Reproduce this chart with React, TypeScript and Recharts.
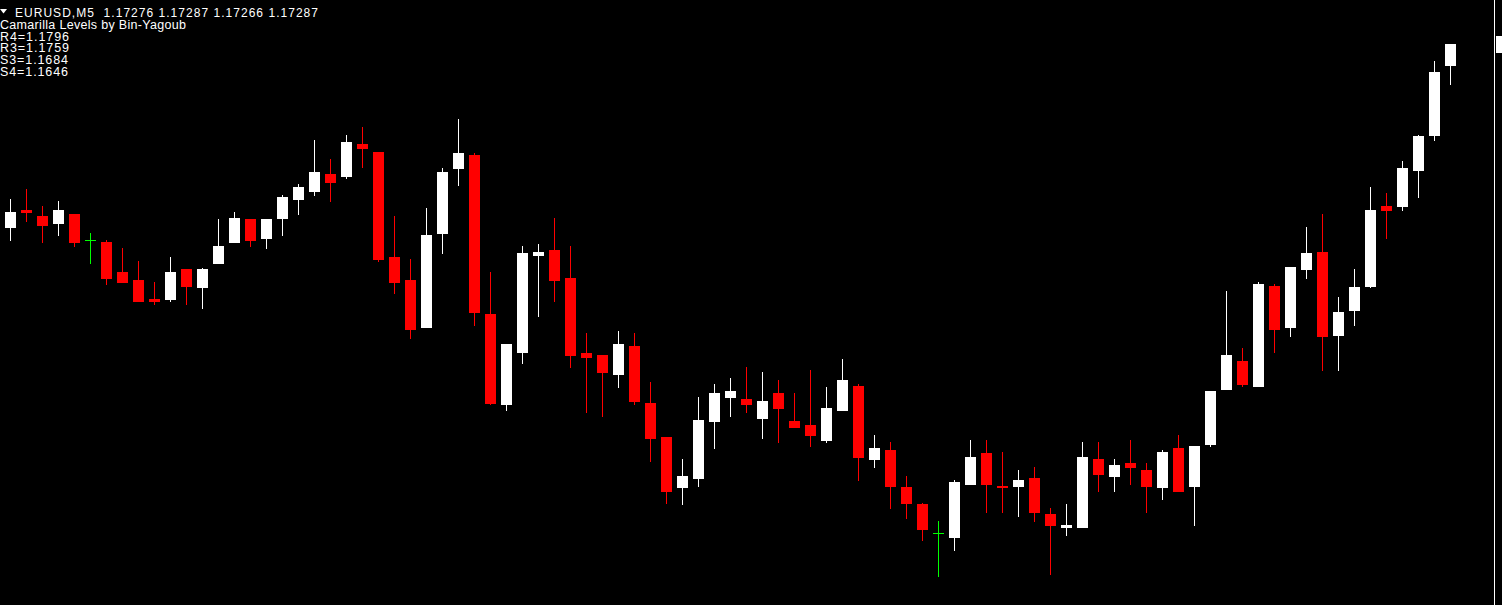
import React from 'react';
import { ComposedChart, Bar, XAxis, YAxis, ReferenceLine } from 'recharts';

const symbolLine = 'EURUSD,M5  1.17276 1.17287 1.17266 1.17287';
const indicatorName = 'Camarilla Levels by Bin-Yagoub';
const levelNames = ['R4', 'R3', 'S3', 'S4'];
const levelValues = ['1.1796', '1.1759', '1.1684', '1.1646'];

const opens = [
  1.17195, 1.17204, 1.17201, 1.17197, 1.17202, 1.17189, 1.17188, 1.17173, 1.17169, 1.171595,
  1.17159, 1.171745, 1.17165, 1.17177, 1.171875, 1.171995, 1.171895, 1.171995, 1.17209, 1.17213,
  1.17222, 1.172205, 1.17237, 1.17233, 1.171805, 1.17169, 1.17145, 1.17192, 1.172245, 1.172315,
  1.17152, 1.171065, 1.171325, 1.17181, 1.17184, 1.1717, 1.171325, 1.171315, 1.171215, 1.17136,
  1.171075, 1.170905, 1.17065, 1.170695, 1.17098, 1.1711, 1.171095, 1.170995, 1.171125, 1.170985,
  1.170965, 1.170885, 1.171035, 1.17116, 1.17079, 1.17084, 1.170655, 1.17057, 1.170425, 1.1704,
  1.170665, 1.170825, 1.17066, 1.170655, 1.1707, 1.17052, 1.17045, 1.17045, 1.170795, 1.170705,
  1.170775, 1.17074, 1.17065, 1.17085, 1.170655, 1.170865, 1.17114, 1.171285, 1.171155, 1.17166,
  1.17145, 1.17174, 1.17183, 1.17141, 1.171535, 1.171655, 1.17206, 1.172055, 1.172235, 1.17241,
  1.17276,
];
const highs = [
  1.172095, 1.172145, 1.17206, 1.172085, 1.17202, 1.171925, 1.17189, 1.17185, 1.171785, 1.17168,
  1.171805, 1.171745, 1.17175, 1.171995, 1.17203, 1.171995, 1.171995, 1.172115, 1.17217, 1.17239,
  1.172295, 1.172415, 1.172455, 1.17233, 1.17201, 1.171795, 1.17205, 1.17225, 1.172495, 1.172325,
  1.17173, 1.17137, 1.17186, 1.17187, 1.172, 1.17186, 1.171425, 1.171315, 1.171435, 1.171425,
  1.17118, 1.170905, 1.170795, 1.171105, 1.17117, 1.1712, 1.171255, 1.17123, 1.17119, 1.171125,
  1.17124, 1.171155, 1.171295, 1.17117, 1.170915, 1.17088, 1.17071, 1.170575, 1.170485, 1.17069,
  1.17089, 1.17089, 1.17083, 1.17074, 1.170755, 1.17055, 1.17057, 1.17088, 1.17088, 1.170795,
  1.17089, 1.170775, 1.17084, 1.170915, 1.17086, 1.171135, 1.171635, 1.17135, 1.17168, 1.17167,
  1.171755, 1.171955, 1.17202, 1.171605, 1.171745, 1.172155, 1.172125, 1.172285, 1.172415, 1.172785,
  1.17287,
];
const lows = [
  1.171885, 1.17198, 1.171875, 1.17191, 1.171855, 1.17177, 1.171665, 1.171675, 1.17158, 1.171565,
  1.17158, 1.171565, 1.171545, 1.17177, 1.171875, 1.171855, 1.171845, 1.17191, 1.172015, 1.17211,
  1.17208, 1.172195, 1.17225, 1.17178, 1.17162, 1.171395, 1.17145, 1.17182, 1.17216, 1.17146,
  1.171065, 1.171035, 1.17127, 1.171505, 1.17158, 1.17125, 1.171025, 1.171005, 1.17115, 1.171065,
  1.17078, 1.17057, 1.170565, 1.170655, 1.170845, 1.171005, 1.171025, 1.170895, 1.170875, 1.17095,
  1.170855, 1.170875, 1.171035, 1.170685, 1.17075, 1.170545, 1.170495, 1.170385, 1.170205, 1.170335,
  1.170665, 1.170525, 1.170525, 1.170505, 1.17048, 1.170215, 1.17041, 1.17045, 1.17063, 1.17063,
  1.170665, 1.170525, 1.17059, 1.17063, 1.17046, 1.170855, 1.17114, 1.171155, 1.171155, 1.171325,
  1.171405, 1.171695, 1.171235, 1.171235, 1.17146, 1.17165, 1.171895, 1.172035, 1.1721, 1.172385,
  1.172665,
];
const closes = [
  1.17203, 1.172025, 1.17196, 1.17204, 1.171875, 1.17189, 1.171695, 1.171675, 1.17158, 1.17158,
  1.17173, 1.171655, 1.171745, 1.17186, 1.172, 1.171885, 1.171995, 1.172105, 1.172155, 1.17223,
  1.172175, 1.17238, 1.172345, 1.17179, 1.171675, 1.17144, 1.171915, 1.17223, 1.172325, 1.171525,
  1.17107, 1.17137, 1.171825, 1.17183, 1.171685, 1.17131, 1.1713, 1.171225, 1.17137, 1.17108,
  1.170895, 1.17063, 1.17071, 1.17099, 1.171125, 1.171135, 1.171065, 1.171085, 1.171045, 1.17095,
  1.17091, 1.17105, 1.17119, 1.1708, 1.17085, 1.170655, 1.17057, 1.17044, 1.170425, 1.17068,
  1.170805, 1.170665, 1.17065, 1.17069, 1.170525, 1.17046, 1.170465, 1.170805, 1.170715, 1.170765,
  1.17075, 1.170655, 1.17083, 1.17063, 1.17086, 1.171135, 1.171315, 1.171165, 1.17167, 1.17144,
  1.171755, 1.171825, 1.171405, 1.17153, 1.171655, 1.17204, 1.172035, 1.17225, 1.17241, 1.17273,
  1.17287,
];
const priceTicks = [1.1729, 1.17257, 1.17224, 1.17191, 1.17158, 1.17125, 1.17092, 1.17059, 1.17026];
const lastPrice = 1.17287;

const data = opens.map((o, i) => ({ i, open: o, high: highs[i], low: lows[i], close: closes[i] }));

const BULL = '#ffffff';
const BEAR = '#ff0000';
const DOJI = '#00ff00';

const Candle = (props: any) => {
  const { x, y, width, height, payload } = props;
  if (!payload || x == null) return null;
  const { open, high, low, close } = payload;
  const top = Math.min(y, y + height);
  const h = Math.abs(height);
  const k = h / (high - low);
  const cx = x + width / 2;
  const yo = top + (high - open) * k;
  const yc = top + (high - close) * k;
  const color = close > open ? BULL : close < open ? BEAR : DOJI;
  const bTop = Math.min(yo, yc);
  const bH = Math.max(Math.abs(yo - yc), 1);
  return (
    <g shapeRendering="crispEdges">
      <rect x={cx - 0.5} y={top} width={1} height={h} fill={color} />
      <rect x={cx - 5.5} y={bTop} width={11} height={bH} fill={color} />
    </g>
  );
};

const PriceBox = (props: any) => {
  const vb = props.viewBox || {};
  return <rect x={vb.x + vb.width + 1.5} y={vb.y - 8} width={20} height={17} fill="#ffffff" />;
};

export default function App() {
  const W = 1502;
  const H = 605;
  const font = '"Liberation Sans", Arial, sans-serif';
  return (
    <div style={{ position: 'absolute', left: 0, top: 0, width: W, height: H, background: '#000', overflow: 'hidden' }}>
      <ComposedChart width={W} height={H} data={data} margin={{ top: 0, right: 0, bottom: 0, left: 0 }}>
        <XAxis dataKey="i" type="number" domain={[-0.65625, 92.75]} allowDataOverflow hide />
        <YAxis
          orientation="right"
          type="number"
          width={7.5}
          domain={[1.170065, 1.17309]}
          allowDataOverflow
          ticks={priceTicks}
          tick={false}
          tickSize={3}
          axisLine={{ stroke: '#ffffff', strokeWidth: 1 }}
          tickLine={{ stroke: '#ffffff', strokeWidth: 1 }}
        />
        <Bar
          dataKey={(d: any) => [d.low, d.high]}
          barSize={11}
          isAnimationActive={false}
          shape={(p: any) => <Candle {...p} />}
        />
        <ReferenceLine y={lastPrice} stroke="none" ifOverflow="visible" label={(p: any) => <PriceBox {...p} />} />
      </ComposedChart>
      <svg width={W} height={90} style={{ position: 'absolute', left: 0, top: 0, pointerEvents: 'none' }}>
        <polygon points="0,9 7,9 3.5,13.5" fill="#ffffff" />
        <text x={15} y={17} fill="#ffffff" fontFamily={font} fontSize={12} textLength={303} lengthAdjust="spacing" style={{ whiteSpace: 'pre' }}>
          {symbolLine}
        </text>
        <text x={0} y={28.5} fill="#ffffff" fontFamily={font} fontSize={12.5} textLength={186} lengthAdjust="spacing">
          {indicatorName}
        </text>
        {levelNames.map((n, idx) => (
          <text key={n} x={0} y={40.5 + idx * 11.8} fill="#ffffff" fontFamily={font} fontSize={12.5} textLength={idx < 2 ? 69 : 68} lengthAdjust="spacing">
            {`${n}=${levelValues[idx]}`}
          </text>
        ))}
      </svg>
    </div>
  );
}
